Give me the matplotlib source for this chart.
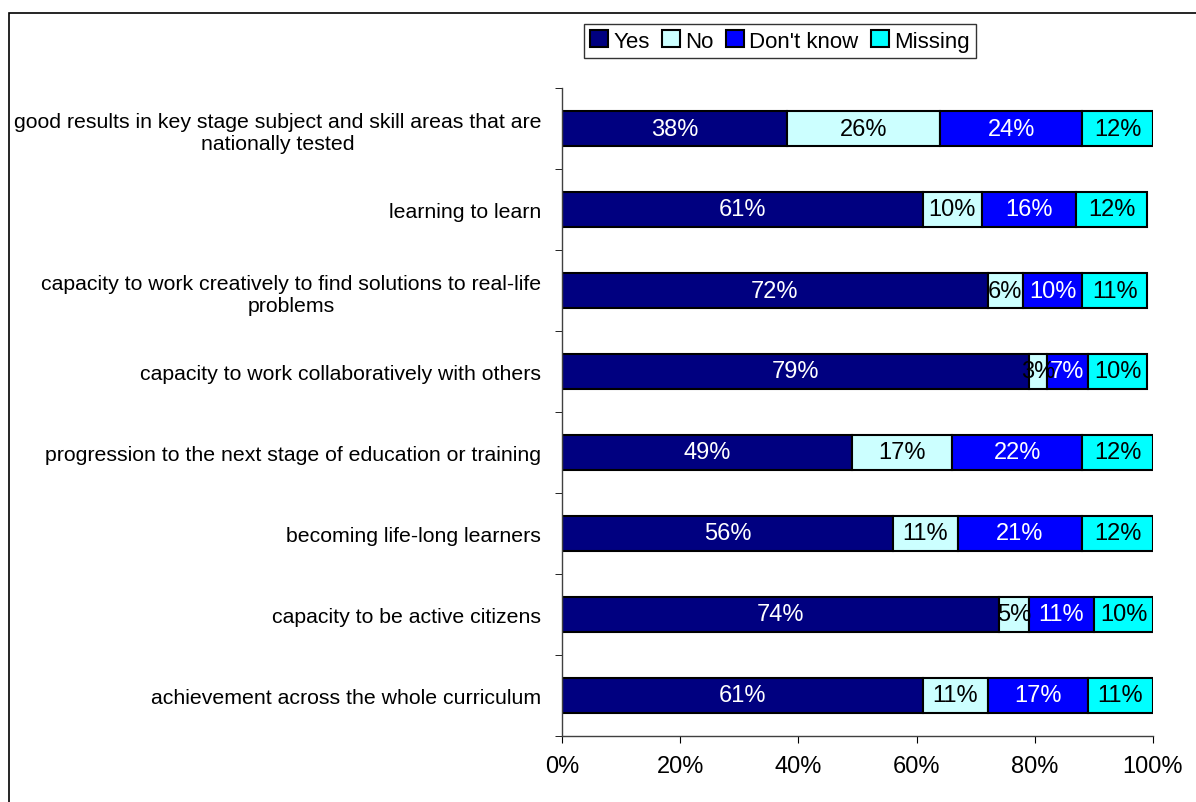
import numpy as np
import matplotlib
matplotlib.use("Agg")
import matplotlib.pyplot as plt
from matplotlib.patches import Rectangle

plt.rcParams["font.family"] = ["Liberation Sans", "DejaVu Sans"]

# survey items, top to bottom
items = [
    "good results in key stage subject and skill areas that are\nnationally tested",
    "learning to learn",
    "capacity to work creatively to find solutions to real-life\nproblems",
    "capacity to work collaboratively with others",
    "progression to the next stage of education or training",
    "becoming life-long learners",
    "capacity to be active citizens",
    "achievement across the whole curriculum",
]
yes = [38, 61, 72, 79, 49, 56, 74, 61]
no = [26, 10, 6, 3, 17, 11, 5, 11]
dont_know = [24, 16, 10, 7, 22, 21, 11, 17]
missing = [12, 12, 11, 10, 12, 12, 10, 11]

series = ["Yes", "No", "Don't know", "Missing"]
colors = ["#000080", "#CCFFFF", "#0000FF", "#00FFFF"]
text_colors = ["white", "black", "white", "black"]
xticks = [0, 20, 40, 60, 80, 100]

fig = plt.figure(figsize=(11.96, 8.03), dpi=100)
ax = fig.add_axes([562 / 1196, 1 - 737 / 803, (1153 - 562) / 1196, (737 - 89) / 803])

# outer chart frame
fig.patches.append(Rectangle((9 / 1196, -0.1), 1.2, 1 - 14 / 803 + 0.1,
                             transform=fig.transFigure, fill=False,
                             edgecolor="black", lw=1.2))

y = np.arange(len(items))
left = np.zeros(len(items))
for vals, name, c, tc in zip([yes, no, dont_know, missing], series, colors, text_colors):
    vals = np.array(vals, dtype=float)
    ax.barh(y, vals, left=left, height=0.42, color=c, edgecolor="black",
            linewidth=1.5, label=name)
    for yi, l, v in zip(y, left, vals):
        ax.text(l + v / 2, yi, f"{int(v)}%", ha="center", va="center",
                color=tc, fontsize=17)
    left += vals

ax.set_ylim(len(items) - 0.5, -0.5)
ax.set_xlim(0, 100)
ax.set_yticks(y)
ax.set_yticklabels(items, fontsize=15.3, multialignment="center", linespacing=1.2)
ax.set_yticks(np.arange(-0.5, len(items)), minor=True)
ax.tick_params(axis="y", which="major", length=0, pad=15)
ax.tick_params(axis="y", which="minor", length=5, direction="out")
ax.set_xticks(xticks)
ax.set_xticklabels([f"{t}%" for t in xticks], fontsize=17)
ax.tick_params(axis="x", length=5, direction="out", pad=9)

for s in ["top", "right"]:
    ax.spines[s].set_visible(False)
for s in ["left", "bottom"]:
    ax.spines[s].set_color("#404040")
    ax.spines[s].set_linewidth(1)

leg = fig.legend(loc="center", bbox_to_anchor=(780 / 1196, 1 - 42 / 803), ncol=4,
                 fontsize=16, frameon=True, fancybox=False, edgecolor="black",
                 handlelength=0.8, handleheight=0.8, handletextpad=0.25,
                 columnspacing=0.55, borderpad=0.3, borderaxespad=0)
leg.get_frame().set_linewidth(1)

fig.savefig("out.png", dpi=100)
